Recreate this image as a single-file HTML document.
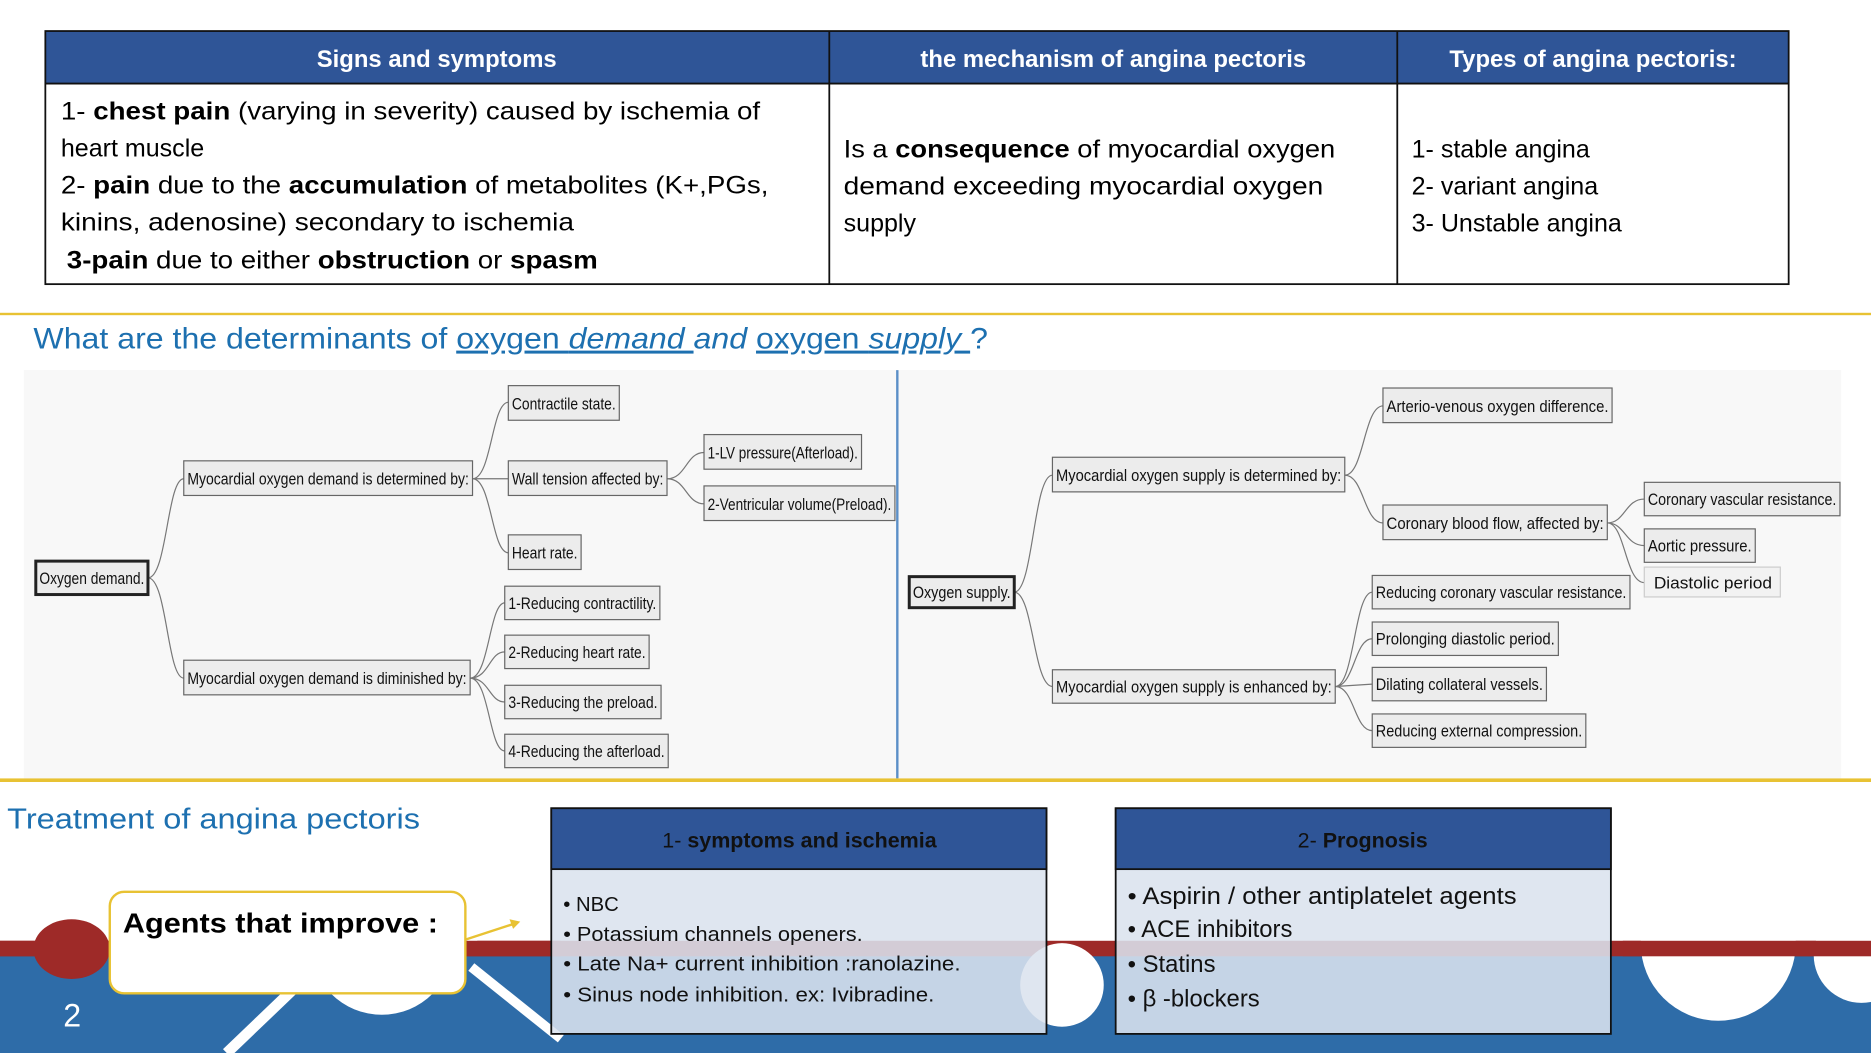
<!DOCTYPE html>
<html><head><meta charset="utf-8"><style>
html,body{margin:0;padding:0;background:#fff;width:1871px;height:1053px;overflow:hidden}
svg{display:block}
.n{font-family:"Liberation Sans",sans-serif;font-size:14px;fill:#111}
.t{font-family:"Liberation Sans",sans-serif;font-size:21px;fill:#000}
.c{fill:none;stroke:#777;stroke-width:1}
.b{fill:#ececec;stroke:#666;stroke-width:1}
</style></head><body>
<svg width="1871" height="1053" viewBox="0 0 1568 882" preserveAspectRatio="none" xmlns="http://www.w3.org/2000/svg">
<!-- top table -->
<rect x="38" y="26" width="1461" height="44" fill="#2f5597"/>
<rect x="38" y="26" width="1461" height="212" fill="none" stroke="#111" stroke-width="1.5"/>
<line x1="38" y1="70" x2="1499" y2="70" stroke="#111" stroke-width="1.5"/>
<line x1="695" y1="26" x2="695" y2="238" stroke="#111" stroke-width="1.5"/>
<line x1="1171" y1="26" x2="1171" y2="238" stroke="#111" stroke-width="1.5"/>
<g font-family="Liberation Sans,sans-serif" font-size="20" font-weight="bold" fill="#fff" text-anchor="middle">
<text x="366" y="56">Signs and symptoms</text>
<text x="933" y="56">the mechanism of angina pectoris</text>
<text x="1335" y="56">Types of angina pectoris:</text>
</g>
<text class="t" x="51" y="100" textLength="586" lengthAdjust="spacingAndGlyphs">1- <tspan font-weight="bold">chest pain</tspan> (varying in severity) caused by ischemia of</text>
<text class="t" x="51" y="131">heart muscle</text>
<text class="t" x="51" y="162" textLength="593" lengthAdjust="spacingAndGlyphs">2- <tspan font-weight="bold">pain</tspan> due to the <tspan font-weight="bold">accumulation</tspan> of metabolites (K+,PGs,</text>
<text class="t" x="51" y="193" textLength="430" lengthAdjust="spacingAndGlyphs">kinins, adenosine) secondary to ischemia</text>
<text class="t" x="56" y="225" textLength="445" lengthAdjust="spacingAndGlyphs"><tspan font-weight="bold">3-pain</tspan> due to either <tspan font-weight="bold">obstruction</tspan> or <tspan font-weight="bold">spasm</tspan></text>
<text class="t" x="707" y="132" textLength="412" lengthAdjust="spacingAndGlyphs">Is a <tspan font-weight="bold">consequence</tspan> of myocardial oxygen</text>
<text class="t" x="707" y="163" textLength="402" lengthAdjust="spacingAndGlyphs">demand exceeding myocardial oxygen</text>
<text class="t" x="707" y="194">supply</text>
<text class="t" x="1183" y="132">1- stable angina</text>
<text class="t" x="1183" y="163">2- variant angina</text>
<text class="t" x="1183" y="194">3- Unstable angina</text>

<rect x="0" y="262" width="1568" height="2" fill="#e8c233"/>
<text x="28" y="292" font-family="Liberation Sans,sans-serif" font-size="25" fill="#1d70b0" textLength="800" lengthAdjust="spacingAndGlyphs">What are the determinants of <tspan text-decoration="underline">oxygen <tspan font-style="italic">demand </tspan></tspan><tspan font-style="italic">and </tspan><tspan text-decoration="underline">oxygen <tspan font-style="italic">supply </tspan></tspan>?</text>

<!-- diagram -->
<rect x="20" y="310" width="1523" height="342" fill="#f8f8f8"/>
<line x1="752" y1="310" x2="752" y2="652" stroke="#5b8fc7" stroke-width="2"/>
<rect x="0" y="652" width="1568" height="3" fill="#e8c233"/>

<g>
<path class="c" d="M124 484 C140 484,140 401,154 401 M124 484 C140 484,140 568,154 568"/>
<path class="c" d="M396 401 C412 401,412 337,426 337 M396 401 L426 401 M396 401 C412 401,412 463,426 463"/>
<path class="c" d="M559 401 C575 401,575 379,590 379 M559 401 C575 401,575 422,590 422"/>
<path class="c" d="M394 568 C410 568,410 505,423 505 M394 568 C410 568,410 546,423 546 M394 568 C410 568,410 588,423 588 M394 568 C410 568,410 629,423 629"/>
<path class="c" d="M850 496 C866 496,866 398,882 398 M850 496 C866 496,866 575,882 575"/>
<path class="c" d="M1127 398 C1143 398,1143 340,1159 340 M1127 398 C1143 398,1143 438,1159 438"/>
<path class="c" d="M1347 438 C1362 438,1362 418,1378 418 M1347 438 C1362 438,1362 457,1378 457 M1347 438 C1362 438,1362 488,1378 488"/>
<path class="c" d="M1119 575 C1135 575,1135 496,1150 496 M1119 575 C1135 575,1135 535,1150 535 M1119 575 L1150 573 M1119 575 C1135 575,1135 612,1150 612"/>
</g>
<g>
<rect x="30" y="470" width="94" height="28" fill="#ececec" stroke="#222" stroke-width="2.5"/><text class="n" x="33" y="489" textLength="88" lengthAdjust="spacingAndGlyphs">Oxygen demand.</text>
<rect class="b" x="154" y="386" width="242" height="29"/><text class="n" x="157" y="406" textLength="236" lengthAdjust="spacingAndGlyphs">Myocardial oxygen demand is determined by:</text>
<rect class="b" x="426" y="323" width="93" height="29"/><text class="n" x="429" y="343" textLength="87" lengthAdjust="spacingAndGlyphs">Contractile state.</text>
<rect class="b" x="426" y="386" width="133" height="29"/><text class="n" x="429" y="406" textLength="127" lengthAdjust="spacingAndGlyphs">Wall tension affected by:</text>
<rect class="b" x="426" y="448" width="61" height="29"/><text class="n" x="429" y="468" textLength="55" lengthAdjust="spacingAndGlyphs">Heart rate.</text>
<rect class="b" x="590" y="364" width="132" height="29"/><text class="n" x="593" y="384" textLength="126" lengthAdjust="spacingAndGlyphs">1-LV pressure(Afterload).</text>
<rect class="b" x="590" y="407" width="160" height="29"/><text class="n" x="593" y="427" textLength="154" lengthAdjust="spacingAndGlyphs">2-Ventricular volume(Preload).</text>
<rect class="b" x="154" y="553" width="240" height="29"/><text class="n" x="157" y="573" textLength="234" lengthAdjust="spacingAndGlyphs">Myocardial oxygen demand is diminished by:</text>
<rect class="b" x="423" y="491" width="130" height="28"/><text class="n" x="426" y="510" textLength="124" lengthAdjust="spacingAndGlyphs">1-Reducing contractility.</text>
<rect class="b" x="423" y="532" width="121" height="28"/><text class="n" x="426" y="551" textLength="115" lengthAdjust="spacingAndGlyphs">2-Reducing heart rate.</text>
<rect class="b" x="423" y="574" width="131" height="28"/><text class="n" x="426" y="593" textLength="125" lengthAdjust="spacingAndGlyphs">3-Reducing the preload.</text>
<rect class="b" x="423" y="615" width="137" height="28"/><text class="n" x="426" y="634" textLength="131" lengthAdjust="spacingAndGlyphs">4-Reducing the afterload.</text>

<rect x="762" y="483" width="88" height="26" fill="#ececec" stroke="#222" stroke-width="2.5"/><text class="n" x="765" y="501" textLength="82" lengthAdjust="spacingAndGlyphs">Oxygen supply.</text>
<rect class="b" x="882" y="383" width="245" height="29"/><text class="n" x="885" y="403" textLength="239" lengthAdjust="spacingAndGlyphs">Myocardial oxygen supply is determined by:</text>
<rect class="b" x="1159" y="325" width="192" height="29"/><text class="n" x="1162" y="345" textLength="186" lengthAdjust="spacingAndGlyphs">Arterio-venous oxygen difference.</text>
<rect class="b" x="1159" y="423" width="188" height="29"/><text class="n" x="1162" y="443" textLength="182" lengthAdjust="spacingAndGlyphs">Coronary blood flow, affected by:</text>
<rect class="b" x="1378" y="404" width="164" height="28"/><text class="n" x="1381" y="423" textLength="158" lengthAdjust="spacingAndGlyphs">Coronary vascular resistance.</text>
<rect class="b" x="1378" y="443" width="93" height="28"/><text class="n" x="1381" y="462" textLength="87" lengthAdjust="spacingAndGlyphs">Aortic pressure.</text>
<rect x="1378" y="475" width="114" height="25" fill="#f2f2f2" stroke="#ccc" stroke-width="1"/><text class="n" x="1386" y="493" font-size="15" textLength="99" lengthAdjust="spacingAndGlyphs">Diastolic period</text>
<rect class="b" x="882" y="561" width="237" height="28"/><text class="n" x="885" y="580" textLength="231" lengthAdjust="spacingAndGlyphs">Myocardial oxygen supply is enhanced by:</text>
<rect class="b" x="1150" y="482" width="216" height="28"/><text class="n" x="1153" y="501" textLength="210" lengthAdjust="spacingAndGlyphs">Reducing coronary vascular resistance.</text>
<rect class="b" x="1150" y="521" width="156" height="28"/><text class="n" x="1153" y="540" textLength="150" lengthAdjust="spacingAndGlyphs">Prolonging diastolic period.</text>
<rect class="b" x="1150" y="559" width="146" height="28"/><text class="n" x="1153" y="578" textLength="140" lengthAdjust="spacingAndGlyphs">Dilating collateral vessels.</text>
<rect class="b" x="1150" y="598" width="179" height="28"/><text class="n" x="1153" y="617" textLength="173" lengthAdjust="spacingAndGlyphs">Reducing external compression.</text>
</g>

<!-- bottom background -->
<rect x="0" y="800" width="1568" height="82" fill="#2e6ca8"/>
<rect x="0" y="788" width="1568" height="13" fill="#9e2a28"/>
<circle cx="320" cy="790" r="60" fill="#fff"/>
<rect x="250" y="770" width="150" height="30" fill="#fff"/>
<rect x="0" y="788" width="250" height="13" fill="#9e2a28"/>
<rect x="390" y="788" width="80" height="13" fill="#9e2a28"/>
<circle cx="1440" cy="790" r="65" fill="#fff"/>
<circle cx="1560" cy="800" r="40" fill="#fff"/>
<rect x="1360" y="788" width="208" height="13" fill="#9e2a28"/>
<circle cx="890" cy="825" r="35" fill="#fff"/>
<line x1="190" y1="882" x2="260" y2="815" stroke="#fff" stroke-width="9"/>
<line x1="395" y1="810" x2="470" y2="870" stroke="#fff" stroke-width="8"/>
<ellipse cx="60" cy="795" rx="32" ry="25" fill="#9e2a28"/>
<text x="53" y="860" font-family="Liberation Sans,sans-serif" font-size="27" fill="#fff">2</text>

<text x="6" y="694" font-family="Liberation Sans,sans-serif" font-size="24" fill="#1d70b0" textLength="346" lengthAdjust="spacingAndGlyphs">Treatment of angina pectoris</text>

<rect x="92" y="747" width="298" height="85" rx="12" fill="#fff" stroke="#e8c233" stroke-width="2"/>
<text x="103" y="781" font-family="Liberation Sans,sans-serif" font-size="23" font-weight="bold" fill="#000" textLength="264" lengthAdjust="spacingAndGlyphs">Agents that improve :</text>
<line x1="390" y1="787" x2="430" y2="774" stroke="#e8c233" stroke-width="2"/>
<polygon points="436,772 427,770 430,778" fill="#e8c233"/>

<rect x="462" y="677" width="415" height="189" fill="#dbe2ee" fill-opacity="0.88" stroke="#111" stroke-width="1.5"/>
<rect x="462" y="677" width="415" height="51" fill="#2f5597" stroke="#111" stroke-width="1.5"/>
<text x="670" y="710" text-anchor="middle" font-family="Liberation Sans,sans-serif" font-size="18" fill="#111">1- <tspan font-weight="bold">symptoms and ischemia</tspan></text>
<g font-family="Liberation Sans,sans-serif" font-size="17" fill="#111">
<text x="472" y="763">• NBC</text>
<text x="472" y="788" textLength="251" lengthAdjust="spacingAndGlyphs">• Potassium channels openers.</text>
<text x="472" y="813" textLength="333" lengthAdjust="spacingAndGlyphs">• Late Na+ current inhibition :ranolazine.</text>
<text x="472" y="839" textLength="311" lengthAdjust="spacingAndGlyphs">• Sinus node inhibition. ex: Ivibradine.</text>
</g>
<rect x="935" y="677" width="415" height="189" fill="#dbe2ee" fill-opacity="0.88" stroke="#111" stroke-width="1.5"/>
<rect x="935" y="677" width="415" height="51" fill="#2f5597" stroke="#111" stroke-width="1.5"/>
<text x="1142" y="710" text-anchor="middle" font-family="Liberation Sans,sans-serif" font-size="18" fill="#111">2- <tspan font-weight="bold">Prognosis</tspan></text>
<g font-family="Liberation Sans,sans-serif" font-size="20" fill="#111">
<text x="945" y="757" textLength="326" lengthAdjust="spacingAndGlyphs">• Aspirin / other antiplatelet agents</text>
<text x="945" y="785">• ACE inhibitors</text>
<text x="945" y="814">• Statins</text>
<text x="945" y="843">• β -blockers</text>
</g>
</svg>
</body></html>
